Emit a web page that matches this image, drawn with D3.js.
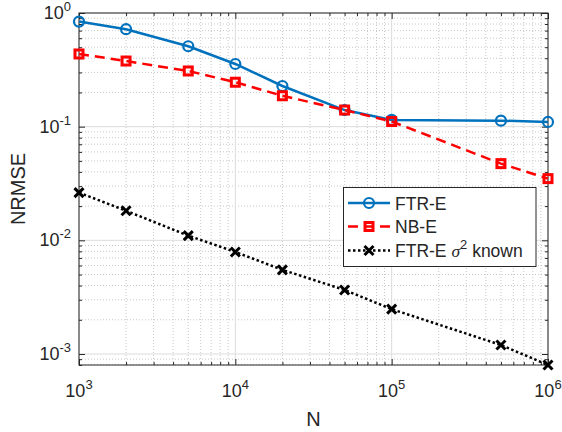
<!DOCTYPE html>
<html><head><meta charset="utf-8">
<script src="https://cdn.jsdelivr.net/npm/d3@7"></script>
<style>body{margin:0;background:#fff}svg{display:block}text{font-family:Arial,"Liberation Sans",Helvetica,sans-serif;fill:#262626}</style>
</head><body><svg id="c" width="562" height="432"></svg>
<script>
const N = [1e3, 2e3, 5e3, 1e4, 2e4, 5e4, 1e5, 5e5, 1e6];
const ftrE = [0.84, 0.72, 0.51, 0.356, 0.228, 0.140, 0.1146, 0.113, 0.110];
const nbE = [0.436, 0.378, 0.309, 0.246, 0.187, 0.140, 0.111, 0.0473, 0.0349];
const ftrKnown = [0.0263, 0.0182, 0.0110, 0.0079, 0.0055, 0.00366, 0.00248, 0.0012, 0.0008];
const xTickExp = [3, 4, 5, 6];
const yTickExp = [-3, -2, -1, 0];
const legendLabels = ["FTR-E", "NB-E", "FTR-E σ² known"];

const svg = d3.select("#c");
const L = 79, R = 548, T = 13, B = 365;
const x = d3.scaleLog().domain([1e3, 1e6]).range([L, R]);
const y = d3.scaleLog().domain([8e-4, 1]).range([B, T]);
const axisCol = "#262626";

const xMinor = [], yMinor = [];
for (let e = 3; e < 6; e++) for (let m = 2; m <= 9; m++) xMinor.push(m * Math.pow(10, e));
for (let e = -4; e < 0; e++) for (let m = 2; m <= 9; m++) { const v = m * Math.pow(10, e); if (v >= 8e-4 && v < 1) yMinor.push(v); }

const g = svg.append("g");
g.selectAll(".xmg").data(xMinor).join("line").attr("x1", d => x(d)).attr("x2", d => x(d)).attr("y1", T).attr("y2", B)
  .attr("stroke", "#c8c8c8").attr("stroke-width", 1).attr("stroke-dasharray", "1,2");
g.selectAll(".ymg").data(yMinor).join("line").attr("y1", d => y(d)).attr("y2", d => y(d)).attr("x1", L).attr("x2", R)
  .attr("stroke", "#c8c8c8").attr("stroke-width", 1).attr("stroke-dasharray", "1,2");
g.selectAll(".xg").data(xTickExp).join("line").attr("x1", d => x(Math.pow(10, d))).attr("x2", d => x(Math.pow(10, d))).attr("y1", T).attr("y2", B)
  .attr("stroke", "#dcdcdc").attr("stroke-width", 1);
g.selectAll(".yg").data(yTickExp).join("line").attr("y1", d => y(Math.pow(10, d))).attr("y2", d => y(Math.pow(10, d))).attr("x1", L).attr("x2", R)
  .attr("stroke", "#dcdcdc").attr("stroke-width", 1);

const xAll = xTickExp.map(e => Math.pow(10, e));
const yAll = yTickExp.map(e => Math.pow(10, e));
function axes() {
  const mk = (ax, tr) => { const a = svg.append("g").attr("transform", tr).call(ax); a.selectAll("text").remove(); a.select(".domain").remove(); a.selectAll("line").attr("stroke", axisCol); return a; };
  mk(d3.axisBottom(x).tickValues(xAll).tickSize(-6), `translate(0,${B})`);
  mk(d3.axisBottom(x).tickValues(xMinor).tickSize(-3), `translate(0,${B})`);
  mk(d3.axisTop(x).tickValues(xAll).tickSize(-6), `translate(0,${T})`);
  mk(d3.axisTop(x).tickValues(xMinor).tickSize(-3), `translate(0,${T})`);
  mk(d3.axisLeft(y).tickValues(yAll).tickSize(-6), `translate(${L},0)`);
  mk(d3.axisLeft(y).tickValues(yMinor).tickSize(-3), `translate(${L},0)`);
  mk(d3.axisRight(y).tickValues(yAll).tickSize(-6), `translate(${R},0)`);
  mk(d3.axisRight(y).tickValues(yMinor).tickSize(-3), `translate(${R},0)`);
}
axes();
svg.append("rect").attr("x", L).attr("y", T).attr("width", R - L).attr("height", B - T).attr("fill", "none").attr("stroke", axisCol).attr("stroke-width", 1);

svg.selectAll(".xl").data(xTickExp).join("text").attr("x", d => x(Math.pow(10, d))).attr("y", B + 32)
  .attr("text-anchor", "middle").attr("font-size", 18)
  .each(function (d) { const t = d3.select(this); t.append("tspan").text("10"); t.append("tspan").attr("font-size", 13).attr("dy", -8).text(d); });
svg.selectAll(".yl").data(yTickExp).join("text").attr("x", L - 8).attr("y", d => y(Math.pow(10, d)) + 6)
  .attr("text-anchor", "end").attr("font-size", 18)
  .each(function (d) { const t = d3.select(this); t.append("tspan").text("10"); t.append("tspan").attr("font-size", 13).attr("dy", -8).text(d); });

svg.append("text").attr("x", (L + R) / 2).attr("y", 426).attr("text-anchor", "middle").attr("font-size", 20).text("N");
svg.append("text").attr("transform", `translate(25,${(T + B) / 2}) rotate(-90)`).attr("text-anchor", "middle").attr("font-size", 20).text("NRMSE");

const series = [
  { vals: ftrE, color: "#0072BD", dash: null, marker: "circle" },
  { vals: nbE, color: "#FF0000", dash: "10,6", marker: "square" },
  { vals: ftrKnown, color: "#000000", dash: "2.5,2.5", marker: "x" }
];
const line = d3.line().x(d => x(d[0])).y(d => y(d[1]));
function drawMarker(sel, type, color) {
  if (type === "circle") sel.append("circle").attr("r", 5).attr("fill", "none").attr("stroke", color).attr("stroke-width", 2.2);
  else if (type === "square") sel.append("rect").attr("x", -4).attr("y", -4).attr("width", 8).attr("height", 8).attr("fill", "none").attr("stroke", color).attr("stroke-width", 3);
  else sel.append("path").attr("d", "M-4.5,-4.5L4.5,4.5M-4.5,4.5L4.5,-4.5").attr("stroke", color).attr("stroke-width", 3);
}
series.forEach(s => {
  const pts = N.map((n, i) => [n, s.vals[i]]);
  svg.append("path").attr("d", line(pts)).attr("fill", "none").attr("stroke", s.color).attr("stroke-width", 2.5)
    .attr("stroke-dasharray", s.dash);
  svg.selectAll(null).data(pts).join("g").attr("transform", d => `translate(${x(d[0])},${y(d[1])})`)
    .each(function () { drawMarker(d3.select(this), s.marker, s.color); });
});

const lg = svg.append("g");
lg.append("rect").attr("x", 343.5).attr("y", 187.5).attr("width", 192.5).attr("height", 79).attr("fill", "#fff").attr("stroke", axisCol).attr("stroke-width", 1);
const ly = [203, 226.5, 250.5];
series.forEach((s, i) => {
  lg.append("line").attr("x1", 348).attr("x2", 390).attr("y1", ly[i]).attr("y2", ly[i]).attr("stroke", s.color).attr("stroke-width", 2.5).attr("stroke-dasharray", s.dash);
  drawMarker(lg.append("g").attr("transform", `translate(369,${ly[i]})`), s.marker, s.color);
  const t = lg.append("text").attr("x", 395).attr("y", ly[i] + 6.5).attr("font-size", 17.5);
  if (i < 2) t.text(legendLabels[i]);
  else {
    t.append("tspan").text("FTR-E ");
    t.append("tspan").attr("font-family", "'Times New Roman','Liberation Serif',serif").attr("font-style", "italic").text("σ");
    t.append("tspan").attr("font-size", 13).attr("dy", -8).text("2");
    t.append("tspan").attr("dy", 8).text(" known");
  }
});
</script></body></html>
